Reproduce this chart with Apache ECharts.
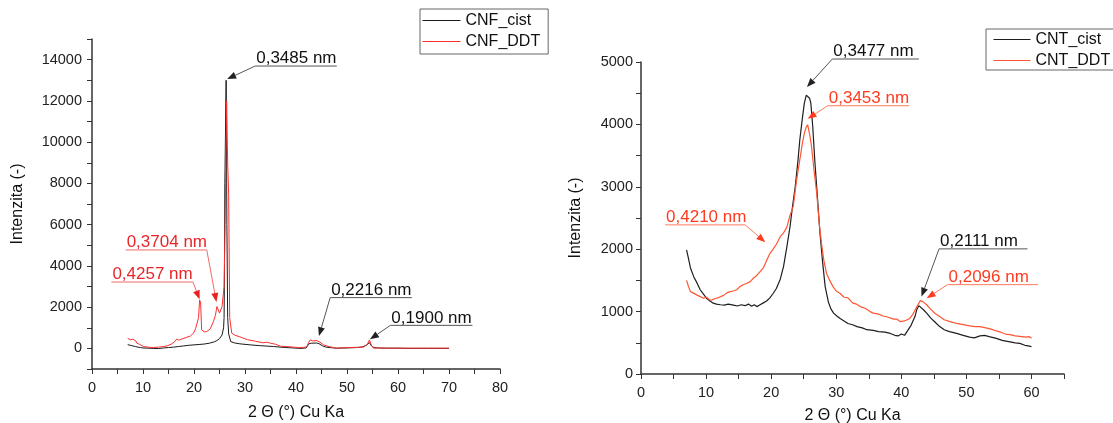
<!DOCTYPE html>
<html>
<head>
<meta charset="utf-8">
<script src="https://cdn.jsdelivr.net/npm/echarts@6/dist/echarts.min.js"></script>
<style>
  body { margin: 0; background: #fff; }
  #chart { width: 1113px; height: 423px; }
</style>
</head>
<body>
<div id="chart"></div>
<script>
// CNF XRD patterns [2theta, intensity]
const cnfCist = [[7,180],[7.5,150],[8,120],[8.5,90],[9,60],[9.5,40],[10,20],[11,10],[12,0],[13,-10],[14,20],[15,40],[16,60],[17,90],[18,120],[19,150],[20,170],[21,190],[22,210],[23,250],[24,320],[24.5,380],[25,470],[25.5,650],[25.8,1000],[25.9,1500],[25.95,3000],[26.05,8000],[26.3,13000],[26.45,6000],[26.6,1500],[26.8,700],[27.2,330],[28,260],[29,220],[31,170],[33,130],[35.6,90],[38,40],[40.2,10],[41,0],[42,20],[42.5,220],[43,250],[44,260],[44.5,230],[45.2,120],[45.9,60],[47,30],[48,10],[50,20],[52,40],[53,70],[53.8,150],[54.4,280],[54.8,120],[55.3,40],[56,20],[58,10],[60,10],[62,0],[64,0],[66,0],[68,0],[70,0]];
const cnfDdt = [[7,490],[7.5,420],[8,445],[8.3,490],[8.6,360],[8.8,250],[9.3,200],[10.1,90],[11,60],[12,40],[13,60],[14,90],[14.7,120],[15.5,200],[16.2,320],[16.6,445],[17,400],[17.8,470],[18.6,540],[19.3,600],[19.9,735],[20.3,950],[20.6,1220],[20.9,1500],[21.1,2350],[21.3,2200],[21.5,900],[22,800],[22.5,815],[23.2,950],[23.8,1300],[24.2,1600],[24.5,2030],[25,1710],[25.5,2030],[25.9,3000],[26.1,6000],[26.4,12000],[26.6,9000],[26.8,7400],[27,1500],[27.4,735],[28,640],[29,560],[29.7,490],[30.5,420],[32,350],[33.5,270],[34.3,300],[35,250],[36,200],[37,100],[38.2,90],[39.5,60],[40.5,40],[41.5,50],[42.1,70],[42.5,300],[42.8,410],[43.3,360],[44.1,380],[44.7,300],[45.4,170],[46.5,80],[48,10],[50,40],[52,50],[53.2,60],[54,200],[54.4,410],[54.8,150],[55.2,10],[56,20],[58,10],[60,10],[62,10],[64,10],[66,10],[68,10],[70,10]];

// CNT XRD patterns
const cntCist = [[7,1990],[7.3,1850],[7.6,1700],[8.1,1560],[8.6,1460],[9.1,1350],[9.6,1280],[10.1,1210],[10.6,1170],[11.1,1135],[11.6,1120],[12.2,1110],[12.8,1105],[13.4,1120],[14.2,1105],[14.8,1090],[15.4,1110],[16,1095],[16.5,1120],[17,1085],[17.4,1110],[17.8,1080],[18.3,1110],[18.8,1140],[19.3,1170],[19.8,1220],[20.3,1290],[20.8,1370],[21.4,1520],[21.9,1720],[22.4,2030],[22.9,2360],[23.3,2700],[23.7,3000],[24.1,3400],[24.4,3750],[24.8,4100],[25.1,4340],[25.4,4470],[25.6,4500],[25.9,4420],[26.1,4340],[26.4,3950],[26.7,3430],[27.1,2850],[27.5,2260],[27.9,1800],[28.3,1400],[28.8,1150],[29.2,1040],[29.6,975],[30.1,930],[30.6,890],[31.2,850],[31.8,810],[32.5,790],[33.2,760],[34,740],[34.7,710],[35.7,700],[36.5,680],[37.5,670],[38.3,650],[39,620],[39.5,610],[40,640],[40.5,620],[41,700],[41.5,780],[42.1,920],[42.4,1040],[42.7,1095],[43,1070],[43.4,1030],[43.9,975],[44.5,900],[45.2,830],[45.9,760],[46.6,710],[47.4,680],[48.5,650],[49.5,620],[50.5,590],[51.2,580],[52.1,610],[52.8,620],[53.5,600],[54.6,570],[55.5,540],[56.5,520],[57.5,500],[58.2,490],[59,460],[59.5,450],[60,440]];
const cntDdt = [[7,1500],[7.3,1400],[7.6,1320],[8,1300],[8.3,1290],[8.7,1260],[9.1,1240],[9.6,1215],[10.1,1230],[10.5,1190],[10.9,1185],[11.4,1210],[11.9,1225],[12.2,1240],[12.7,1260],[13.2,1300],[13.7,1320],[14.2,1330],[14.7,1350],[15.2,1400],[15.7,1430],[16.2,1450],[16.8,1480],[17.3,1540],[17.8,1580],[18.3,1640],[18.8,1700],[19.3,1820],[19.8,1930],[20.3,2000],[20.8,2080],[21.4,2200],[21.9,2260],[22.4,2350],[22.9,2540],[23.4,2690],[23.9,3100],[24.4,3430],[24.8,3700],[25.1,3860],[25.4,3960],[25.6,3995],[25.9,3850],[26.2,3650],[26.6,3250],[27,2900],[27.4,2400],[27.8,2040],[28.1,1820],[28.5,1615],[29,1500],[29.5,1400],[30,1330],[30.6,1290],[31.2,1230],[31.8,1220],[32.5,1140],[33.1,1120],[33.7,1080],[34.5,1050],[35.2,1000],[35.7,975],[36.5,960],[37.2,930],[38,910],[38.8,880],[39.3,880],[39.8,840],[40.5,850],[41.3,890],[41.8,960],[42.4,1080],[42.9,1175],[43.3,1160],[43.9,1110],[44.5,1040],[45.2,970],[45.9,920],[46.6,870],[47.5,840],[48.5,810],[49.5,790],[50.5,770],[51.3,760],[52.1,760],[53,740],[53.8,720],[54.6,690],[55.3,670],[56,640],[56.7,630],[57.5,610],[58.5,600],[59.2,590],[59.6,600],[60,575]];

// peak notes: label, series, arrow tip x/y, underline x0/x1/y
const cnfNotes = [
  ['0,3485 nm', 'CNF_cist', 26.5, 13057, 32.0, 48.0, 13689],
  ['0,3704 nm', 'CNF_DDT', 24.4, 2247, 6.6, 22.5, 4772],
  ['0,4257 nm', 'CNF_DDT', 21.1, 2378, 3.8, 19.8, 3218],
  ['0,2216 nm', 'CNF_cist', 44.5, 597, 46.7, 62.7, 2461],
  ['0,1900 nm', 'CNF_cist', 54.5, 437, 58.5, 74.6, 1116]
];
const cntNotes = [
  ['0,3477 nm', 'CNT_cist', 25.5, 4599, 29.4, 42.7, 5048],
  ['0,3453 nm', 'CNT_DDT', 25.6, 4090, 28.7, 41.2, 4299],
  ['0,4210 nm', 'CNT_DDT', 19.1, 2112, 3.7, 16.0, 2390],
  ['0,2111 nm', 'CNT_cist', 43.1, 1240, 45.8, 59.4, 2005],
  ['0,2096 nm', 'CNT_DDT', 43.9, 1214, 47.1, 61.0, 1432]
];

const FONT = 'Liberation Sans, Arial, sans-serif';
const noteColors = {
  CNF_cist: { text: '#111', line: '#555', arrow: '#222' },
  CNF_DDT: { text: '#e8262a', line: '#f06a6a', arrow: '#e82020' },
  CNT_cist: { text: '#111', line: '#555', arrow: '#222' },
  CNT_DDT: { text: '#ff3b1f', line: '#ff7a5e', arrow: '#ff3b1f' }
};

function noteSeries (notes, idx) {
  return {
    type: 'custom',
    xAxisIndex: idx,
    yAxisIndex: idx,
    silent: true,
    clip: false,
    z: 5,
    data: notes.map(n => [n[2], n[3]]),
    renderItem: function (params, api) {
      const n = notes[params.dataIndex]
      const c = noteColors[n[1]]
      const tip = api.coord([n[2], n[3]])
      const a = api.coord([n[4], n[6]])
      const b = api.coord([n[5], n[6]])
      const nearA = Math.abs(a[0] - tip[0]) < Math.abs(b[0] - tip[0])
      const start = nearA ? a : b
      const far = nearA ? b : a
      const dx = tip[0] - start[0]
      const dy = tip[1] - start[1]
      const len = Math.sqrt(dx * dx + dy * dy)
      const ux = dx / len
      const uy = dy / len
      const base = [tip[0] - ux * 9, tip[1] - uy * 9]
      return {
        type: 'group',
        children: [
          { type: 'polyline', shape: { points: [far, start, base] }, style: { stroke: c.line, lineWidth: 1, fill: null } },
          { type: 'polygon', shape: { points: [tip, [base[0] - uy * 3.5, base[1] + ux * 3.5], [base[0] + uy * 3.5, base[1] - ux * 3.5]] }, style: { fill: c.arrow } },
          { type: 'text', x: a[0] + 1, y: a[1] + 1, style: { text: n[0], fill: c.text, fontSize: 17, fontFamily: FONT, verticalAlign: 'bottom' } }
        ]
      }
    }
  }
}

function valueAxis (opts) {
  return Object.assign({
    type: 'value',
    nameLocation: 'middle',
    nameTextStyle: { fontSize: 16, color: '#111', fontFamily: FONT },
    axisLine: { show: true, onZero: false, lineStyle: { color: '#333', width: 1.5 } },
    axisTick: { show: true, length: 5, lineStyle: { color: '#333' } },
    splitLine: { show: false }
  }, opts)
}

function labelEvery (step, lo, hi) {
  return v => (v % step === 0 && v >= lo && v <= hi) ? String(v) : ''
}

function tickLabel (step, lo, hi, margin) {
  return { formatter: labelEvery(step, lo, hi), fontSize: 14.5, color: '#222', fontFamily: FONT, margin: margin }
}

const legendBase = {
  orient: 'vertical',
  itemHeight: 17,
  borderColor: '#666',
  borderWidth: 1,
  itemStyle: { opacity: 0 },
  lineStyle: { width: 1 },
  textStyle: { fontSize: 16, color: '#111', fontFamily: FONT, lineHeight: 17 }
}

const chart = echarts.init(document.getElementById('chart'))
chart.setOption({
  animation: false,
  textStyle: { fontFamily: FONT },
  grid: [
    { left: 92, right: 613, top: 39, bottom: 54, outerBoundsMode: 'none' },
    { left: 641, right: 49, top: 62, bottom: 49, outerBoundsMode: 'none' }
  ],
  legend: [
    Object.assign({}, legendBase, {
      data: ['CNF_cist', 'CNF_DDT'], left: 420, top: 9,
      itemWidth: 38, itemGap: 4, padding: [3, 8, 4, 2]
    }),
    Object.assign({}, legendBase, {
      data: ['CNT_cist', 'CNT_DDT'], left: 986, top: 29,
      itemWidth: 37, itemGap: 4, padding: [2, 10, 1, 7]
    })
  ],
  xAxis: [
    valueAxis({ gridIndex: 0, min: 0, max: 80, interval: 5, name: '2 Θ (°) Cu Ka', nameGap: 36,
      axisLabel: tickLabel(10, 0, 80, 11) }),
    valueAxis({ gridIndex: 1, min: 0, max: 65, interval: 5, name: '2 Θ (°) Cu Ka', nameGap: 34,
      axisLabel: tickLabel(10, 0, 60, 11) })
  ],
  yAxis: [
    valueAxis({ gridIndex: 0, min: -1000, max: 15000, interval: 1000, name: 'Intenzita (-)', nameGap: 66,
      axisLabel: tickLabel(2000, 0, 14000, 10) }),
    valueAxis({ gridIndex: 1, min: 0, max: 5000, interval: 500, name: 'Intenzita (-)', nameGap: 57,
      axisLabel: tickLabel(1000, 0, 5000, 8) })
  ],
  series: [
    { name: 'CNF_cist', type: 'line', xAxisIndex: 0, yAxisIndex: 0, data: cnfCist, symbol: 'none',
      lineStyle: { color: '#1a1a1a', width: 1 }, itemStyle: { color: '#1a1a1a' } },
    { name: 'CNF_DDT', type: 'line', xAxisIndex: 0, yAxisIndex: 0, data: cnfDdt, symbol: 'none',
      lineStyle: { color: '#ff2e2e', width: 1 }, itemStyle: { color: '#ff2e2e' } },
    { name: 'CNT_cist', type: 'line', xAxisIndex: 1, yAxisIndex: 1, data: cntCist, symbol: 'none',
      lineStyle: { color: '#1e1e1e', width: 1.2 }, itemStyle: { color: '#1e1e1e' } },
    { name: 'CNT_DDT', type: 'line', xAxisIndex: 1, yAxisIndex: 1, data: cntDdt, symbol: 'none',
      lineStyle: { color: '#ff5533', width: 1.2 }, itemStyle: { color: '#ff5533' } },
    noteSeries(cnfNotes, 0),
    noteSeries(cntNotes, 1)
  ]
})
</script>
</body>
</html>
